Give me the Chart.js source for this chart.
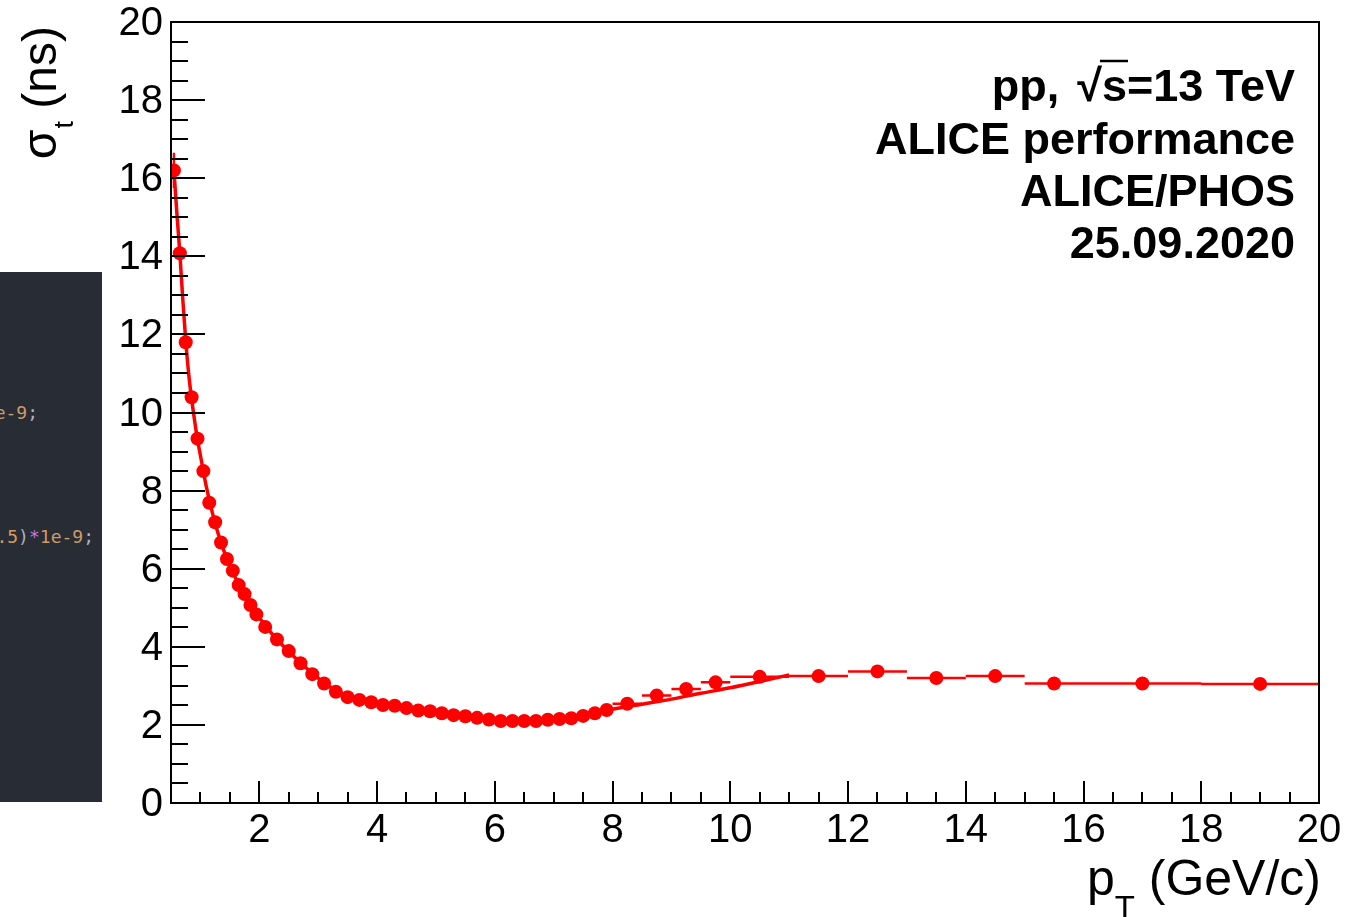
<!DOCTYPE html>
<html>
<head>
<meta charset="utf-8">
<script src="https://cdn.jsdelivr.net/npm/chart.js@4.4.0/dist/chart.umd.min.js"></script>
<style>
  html, body { margin: 0; padding: 0; background: #fff; }
  #wrap { position: relative; width: 1365px; height: 917px; overflow: hidden; }
  #code { position: absolute; left: 0; top: 272px; width: 102px; height: 530px; background: #282c34; overflow: hidden;
          font: 18px "DejaVu Sans Mono", monospace; }
  #code div { position: absolute; white-space: pre; line-height: 20px; }
  .num { color: #d19a66; }
  .pun { color: #abb2bf; }
  .op { color: #c678dd; }
</style>
</head>
<body>
<div id="wrap">
  <canvas id="sigmaChart" width="1365" height="917"></canvas>
  <div id="code">
    <div style="right:64px; top:131px"><span class="num">1e-9</span><span class="pun">;</span></div>
    <div style="right:8px; top:255px"><span class="num">1.5</span><span class="pun">)</span><span class="op">*</span><span class="num">1e-9</span><span class="pun">;</span></div>
  </div>
</div>
<script>
// measured points: bin centre, sigma_t (ns), half bin width, stat error
const ptBins = [0.55, 0.65, 0.75, 0.85, 0.95, 1.05, 1.15, 1.25, 1.35, 1.45, 1.55, 1.65, 1.75, 1.85, 1.95,
  2.1, 2.3, 2.5, 2.7, 2.9, 3.1, 3.3, 3.5, 3.7, 3.9, 4.1, 4.3, 4.5, 4.7, 4.9,
  5.1, 5.3, 5.5, 5.7, 5.9, 6.1, 6.3, 6.5, 6.7, 6.9, 7.1, 7.3, 7.5, 7.7, 7.9,
  8.25, 8.75, 9.25, 9.75, 10.5, 11.5, 12.5, 13.5, 14.5, 15.5, 17, 19];
const sigmaT = [16.2, 14.08, 11.8, 10.39, 9.33, 8.5, 7.69, 7.19, 6.67, 6.25, 5.95, 5.58, 5.35, 5.07, 4.83,
  4.51, 4.19, 3.89, 3.58, 3.3, 3.06, 2.85, 2.71, 2.64, 2.58, 2.51, 2.49, 2.43, 2.37, 2.35,
  2.3, 2.25, 2.22, 2.18, 2.14, 2.1, 2.1, 2.1, 2.1, 2.13, 2.15, 2.17, 2.23, 2.3, 2.38,
  2.54, 2.75, 2.92, 3.09, 3.23, 3.25, 3.37, 3.2, 3.25, 3.06, 3.06, 3.05];
const ptHalfWidth = [0.05, 0.05, 0.05, 0.05, 0.05, 0.05, 0.05, 0.05, 0.05, 0.05, 0.05, 0.05, 0.05, 0.05, 0.05,
  0.1, 0.1, 0.1, 0.1, 0.1, 0.1, 0.1, 0.1, 0.1, 0.1, 0.1, 0.1, 0.1, 0.1, 0.1,
  0.1, 0.1, 0.1, 0.1, 0.1, 0.1, 0.1, 0.1, 0.1, 0.1, 0.1, 0.1, 0.1, 0.1, 0.1,
  0.25, 0.25, 0.25, 0.25, 0.5, 0.5, 0.5, 0.5, 0.5, 0.5, 1, 1];
const sigmaErr = [0.45, 0.15, 0.1, 0.1, 0.1, 0.05, 0.05, 0.05, 0.05, 0.05, 0.05, 0.05, 0.05, 0.05, 0.05,
  0.05, 0.05, 0.05, 0.05, 0.05, 0.05, 0.05, 0.05, 0.05, 0.05, 0.05, 0.05, 0.05, 0.05, 0.05,
  0.05, 0.05, 0.05, 0.05, 0.05, 0.05, 0.05, 0.05, 0.05, 0.05, 0.05, 0.05, 0.05, 0.05, 0.05,
  0.05, 0.05, 0.05, 0.05, 0.05, 0.05, 0.05, 0.05, 0.05, 0.05, 0.05, 0.05];

// fit curve
const fitPt = [0.55, 0.6, 0.65, 0.7, 0.75, 0.8, 0.85, 0.9, 0.95, 1.0, 1.1, 1.2, 1.3, 1.4, 1.5, 1.6, 1.7, 1.8, 1.9, 2.0,
  2.25, 2.5, 2.75, 3.0, 3.25, 3.5, 3.75, 4.0, 4.5, 5.0, 5.5, 6.0, 6.5, 7.0, 7.5, 8.0, 8.5, 9.0, 9.5, 10.0, 10.5, 11.0];
const fitSigma = [16.2, 15.1, 14.08, 12.9, 11.85, 11.0, 10.35, 9.8, 9.3, 8.9, 8.1, 7.45, 6.9, 6.45, 6.1, 5.75, 5.45, 5.2, 4.95, 4.75,
  4.27, 3.88, 3.52, 3.2, 2.93, 2.74, 2.64, 2.56, 2.44, 2.33, 2.23, 2.14, 2.1, 2.13, 2.22, 2.4, 2.53, 2.66, 2.81, 2.95, 3.11, 3.28];

const xTickLabels = [2, 4, 6, 8, 10, 12, 14, 16, 18, 20];
const yTickLabels = [0, 2, 4, 6, 8, 10, 12, 14, 16, 18, 20];
const infoLines = ['ALICE performance', 'ALICE/PHOS', '25.09.2020'];

const RED = '#ff0000';
const FONT = '"Liberation Sans", Arial, sans-serif';

const errorBars = {
  id: 'errorBars',
  beforeDatasetsDraw(chart) {
    const {ctx, chartArea: a, scales: {x, y}} = chart;
    ctx.save();
    ctx.beginPath();
    ctx.rect(a.left, a.top, a.right - a.left, a.bottom - a.top);
    ctx.clip();
    ctx.strokeStyle = RED;
    ctx.lineWidth = 2.5;
    ctx.beginPath();
    ptBins.forEach((pt, i) => {
      const px = x.getPixelForValue(pt);
      const py = y.getPixelForValue(sigmaT[i]);
      ctx.moveTo(x.getPixelForValue(pt - ptHalfWidth[i]), py);
      ctx.lineTo(x.getPixelForValue(pt + ptHalfWidth[i]), py);
      ctx.moveTo(px, y.getPixelForValue(sigmaT[i] - sigmaErr[i]));
      ctx.lineTo(px, y.getPixelForValue(sigmaT[i] + sigmaErr[i]));
    });
    ctx.stroke();
    ctx.restore();
  }
};

// ROOT style frame with inward ticks
const axisFrame = {
  id: 'axisFrame',
  afterDatasetsDraw(chart) {
    const {ctx, chartArea: a, scales: {x, y}} = chart;
    ctx.save();
    ctx.strokeStyle = '#000';
    ctx.lineWidth = 2;
    ctx.beginPath();
    for (let v = 0; v <= 20; v += 0.5) {
      const py = Math.round(y.getPixelForValue(v));
      const len = v % 2 === 0 ? 34 : 17;
      ctx.moveTo(a.left, py);
      ctx.lineTo(a.left + len, py);
    }
    for (let v = 1; v < 20; v += 0.5) {
      const px = Math.round(x.getPixelForValue(v));
      const len = v % 2 === 0 ? 22 : 11;
      ctx.moveTo(px, a.bottom);
      ctx.lineTo(px, a.bottom - len);
    }
    ctx.stroke();
    ctx.strokeRect(a.left, a.top, a.right - a.left, a.bottom - a.top);
    ctx.restore();
  }
};

const labels = {
  id: 'labels',
  afterDraw(chart) {
    const {ctx, chartArea: a} = chart;
    ctx.save();
    ctx.fillStyle = '#000';
    ctx.textBaseline = 'alphabetic';
    ctx.textAlign = 'left';

    // y title: sigma_t (ns), rotated
    ctx.save();
    ctx.translate(56, 26);
    ctx.rotate(-Math.PI / 2);
    const big = '48px ' + FONT, sub = '27px ' + FONT;
    ctx.font = big; const w1 = ctx.measureText('σ').width; const w3 = ctx.measureText(' (ns)').width;
    ctx.font = sub; const w2 = ctx.measureText('t').width;
    let sx = -(w1 + w2 + w3);
    ctx.font = big; ctx.fillText('σ', sx, 0);
    ctx.font = sub; ctx.fillText('t', sx + w1 + 1, 17);
    ctx.font = big; ctx.fillText(' (ns)', sx + w1 + w2, 0);
    ctx.restore();

    // x title: p_T (GeV/c)
    const xb = '50px ' + FONT, xs = '33px ' + FONT;
    ctx.font = xb; const p1 = ctx.measureText('p').width; const p3 = ctx.measureText(' (GeV/c)').width;
    ctx.font = xs; const p2 = ctx.measureText('T').width;
    let tx = a.right + 2 - (p1 + p2 + p3);
    ctx.font = xb; ctx.fillText('p', tx, 895);
    ctx.font = xs; ctx.fillText('T', tx + p1, 919);
    ctx.font = xb; ctx.fillText(' (GeV/c)', tx + p1 + p2, 895);

    // info text, right aligned
    const bold = 'bold 45px ' + FONT;
    const rx = 1295;
    ctx.font = bold;
    const aW = ctx.measureText('pp,').width + 18;
    const rW = ctx.measureText('√').width;
    const sW = ctx.measureText('s').width;
    const eW = ctx.measureText('=13 TeV').width;
    const x0 = rx - (aW + rW + sW + eW);
    ctx.fillText('pp,', x0, 101);
    ctx.fillText('√', x0 + aW, 101);
    ctx.fillText('s', x0 + aW + rW, 101);
    ctx.fillText('=13 TeV', x0 + aW + rW + sW, 101);
    ctx.lineWidth = 2.5;
    ctx.beginPath();
    ctx.moveTo(x0 + aW + rW - 2, 101 - 40);
    ctx.lineTo(x0 + aW + rW + sW + 1, 101 - 40);
    ctx.stroke();
    ctx.textAlign = 'right';
    infoLines.forEach((t, i) => ctx.fillText(t, rx, 154 + i * 52));
    ctx.restore();
  }
};

const ctx = document.getElementById('sigmaChart').getContext('2d');
new Chart(ctx, {
  data: {
    datasets: [{
      type: 'scatter',
      data: ptBins.map((pt, i) => ({x: pt, y: sigmaT[i]})),
      backgroundColor: RED,
      borderWidth: 0,
      pointRadius: 7
    }, {
      type: 'line',
      data: fitPt.map((pt, i) => ({x: pt, y: fitSigma[i]})),
      borderColor: RED,
      borderWidth: 3.5,
      pointRadius: 0,
      fill: false,
      cubicInterpolationMode: 'monotone'
    }]
  },
  options: {
    responsive: false,
    animation: false,
    layout: {padding: {top: 22, right: 46, left: 0, bottom: 0}},
    plugins: {legend: {display: false}, tooltip: {enabled: false}},
    scales: {
      x: {
        type: 'linear',
        min: 0.5,
        max: 20,
        afterBuildTicks: s => { s.ticks = xTickLabels.map(v => ({value: v})); },
        afterFit: s => { s.height = 114; },
        grid: {display: false, drawTicks: false},
        border: {display: false},
        ticks: {color: '#000', padding: 8, maxRotation: 0, autoSkip: false, font: {family: FONT, size: 40, lineHeight: 1}}
      },
      y: {
        type: 'linear',
        min: 0,
        max: 20,
        afterBuildTicks: s => { s.ticks = yTickLabels.map(v => ({value: v})); },
        afterFit: s => { s.width = 171; s.paddingTop = 0; s.paddingBottom = 0; },
        grid: {display: false, drawTicks: false},
        border: {display: false},
        ticks: {color: '#000', padding: 8, labelOffset: 2, autoSkip: false, font: {family: FONT, size: 40, lineHeight: 1}}
      }
    }
  },
  plugins: [errorBars, axisFrame, labels]
});
</script>
</body>
</html>
